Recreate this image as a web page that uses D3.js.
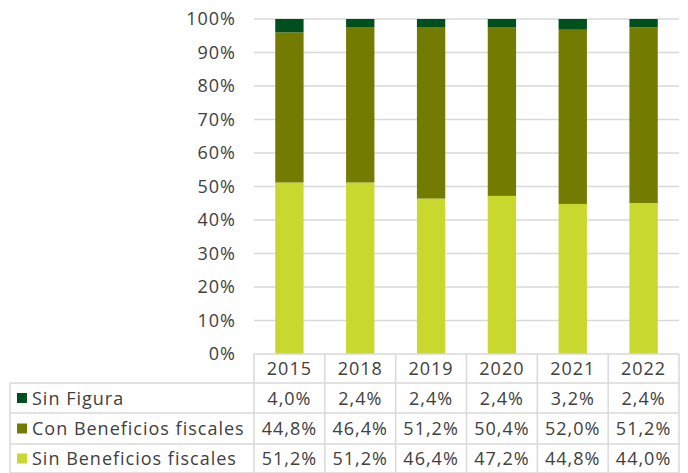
<!DOCTYPE html>
<html lang="es">
<head>
<meta charset="utf-8">
<title>Beneficios fiscales</title>
<script src="https://cdn.jsdelivr.net/npm/d3@7"></script>
<style>
  body { margin: 0; background: #fff; }
  text { font-family: "Open Sans", Lato, sans-serif; fill: #404040; letter-spacing: 1px; }
</style>
</head>
<body>
<svg id="chart" width="688" height="473"></svg>
<script>
// data
let years = ['2015', '2018', '2019', '2020', '2021', '2022'];
let sinFigura = [4.0, 2.4, 2.4, 2.4, 3.2, 2.4];
let conBeneficios = [44.8, 46.4, 51.2, 50.4, 52.0, 51.2];
let sinBeneficios = [51.2, 51.2, 46.4, 47.2, 44.8, 44.0];
let yTicks = [0, 0.1, 0.2, 0.3, 0.4, 0.5, 0.6, 0.7, 0.8, 0.9, 1];

// stacked bottom-up, table rows top-down
let series = [
    {key: 'sinBen', name: 'Sin Beneficios fiscales', values: sinBeneficios, color: '#c8d82f'},
    {key: 'conBen', name: 'Con Beneficios fiscales', values: conBeneficios, color: '#737b00'},
    {key: 'sinFig', name: 'Sin Figura', values: sinFigura, color: '#004f1e'}
];

let svg = d3.select('#chart');
let plotLeft = 254, plotRight = 679, plotTop = 19, plotBottom = 354;
let tableLeft = 10;
let rowLines = [354, 383, 413, 444, 473];
let fontSize = '18px';

let x = d3.scaleBand().domain(years).range([plotLeft, plotRight]).paddingInner(0.6).paddingOuter(0.3);
let y = d3.scaleLinear().domain([0, 1]).range([plotBottom, plotTop]);

let rows = years.map((yr, i) => {
    let r = {year: yr};
    series.forEach(s => r[s.key] = s.values[i]);
    return r;
});
let stacked = d3.stack()
    .keys(series.map(s => s.key))
    .offset(d3.stackOffsetExpand)(rows);

// gridlines
svg.append('g')
    .selectAll('line')
    .data(yTicks.slice(1))
    .join('line')
    .attr('x1', plotLeft).attr('x2', plotRight)
    .attr('y1', d => y(d)).attr('y2', d => y(d))
    .attr('stroke', '#d9d9d9')
    .attr('stroke-width', 1.5);

// y axis labels
let yAxis = svg.append('g')
    .attr('transform', `translate(${plotLeft}, 0)`)
    .call(d3.axisLeft(y).tickValues(yTicks).tickFormat(d3.format('.0%')).tickSize(0).tickPadding(18));
yAxis.select('.domain').remove();
yAxis.selectAll('text')
    .style('font-size', fontSize)
    .style('font-family', '"Open Sans", sans-serif')
    .attr('fill', '#404040');

// bars
svg.append('g')
    .selectAll('g')
    .data(stacked)
    .join('g')
    .attr('fill', (d, i) => series[i].color)
    .selectAll('rect')
    .data(d => d)
    .join('rect')
    .attr('x', d => x(d.data.year))
    .attr('width', x.bandwidth())
    .attr('y', d => y(d[1]))
    .attr('height', d => y(d[0]) - y(d[1]));

// data table
let table = svg.append('g').attr('stroke', '#d9d9d9').attr('stroke-width', 1.5);
let colW = (plotRight - plotLeft) / years.length;
let colEdges = d3.range(years.length + 1).map(i => plotLeft + i * colW);

// horizontal lines
rowLines.forEach((ly, i) => {
    table.append('line')
        .attr('x1', i === 0 ? plotLeft : tableLeft)
        .attr('x2', plotRight)
        .attr('y1', ly).attr('y2', ly);
});
// vertical lines
colEdges.forEach(cx => {
    table.append('line')
        .attr('x1', cx).attr('x2', cx)
        .attr('y1', rowLines[0]).attr('y2', rowLines[4]);
});
table.append('line')
    .attr('x1', tableLeft).attr('x2', tableLeft)
    .attr('y1', rowLines[1]).attr('y2', rowLines[4]);

let fmt = v => v.toFixed(1).replace('.', ',') + '%';

// header
svg.append('g')
    .selectAll('text')
    .data(years)
    .join('text')
    .attr('x', (d, i) => plotLeft + colW * (i + 0.5))
    .attr('y', (rowLines[0] + rowLines[1]) / 2 + 6.5)
    .attr('text-anchor', 'middle')
    .style('font-size', fontSize)
    .text(d => d);

// rows, top to bottom
let tableSeries = series.slice().reverse();
tableSeries.forEach((s, r) => {
    let cy = (rowLines[r + 1] + rowLines[r + 2]) / 2;
    let g = svg.append('g');
    g.append('rect')
        .attr('x', 17).attr('y', cy - 5)
        .attr('width', 10).attr('height', 10)
        .attr('fill', s.color);
    g.append('text')
        .attr('x', 32).attr('y', cy + 6.5)
        .style('font-size', fontSize)
        .text(s.name);
    g.selectAll('text.val')
        .data(s.values)
        .join('text')
        .attr('class', 'val')
        .attr('x', (d, i) => plotLeft + colW * (i + 0.5))
        .attr('y', cy + 6.5)
        .attr('text-anchor', 'middle')
        .style('font-size', fontSize)
        .text(d => fmt(d));
});
</script>
</body>
</html>
